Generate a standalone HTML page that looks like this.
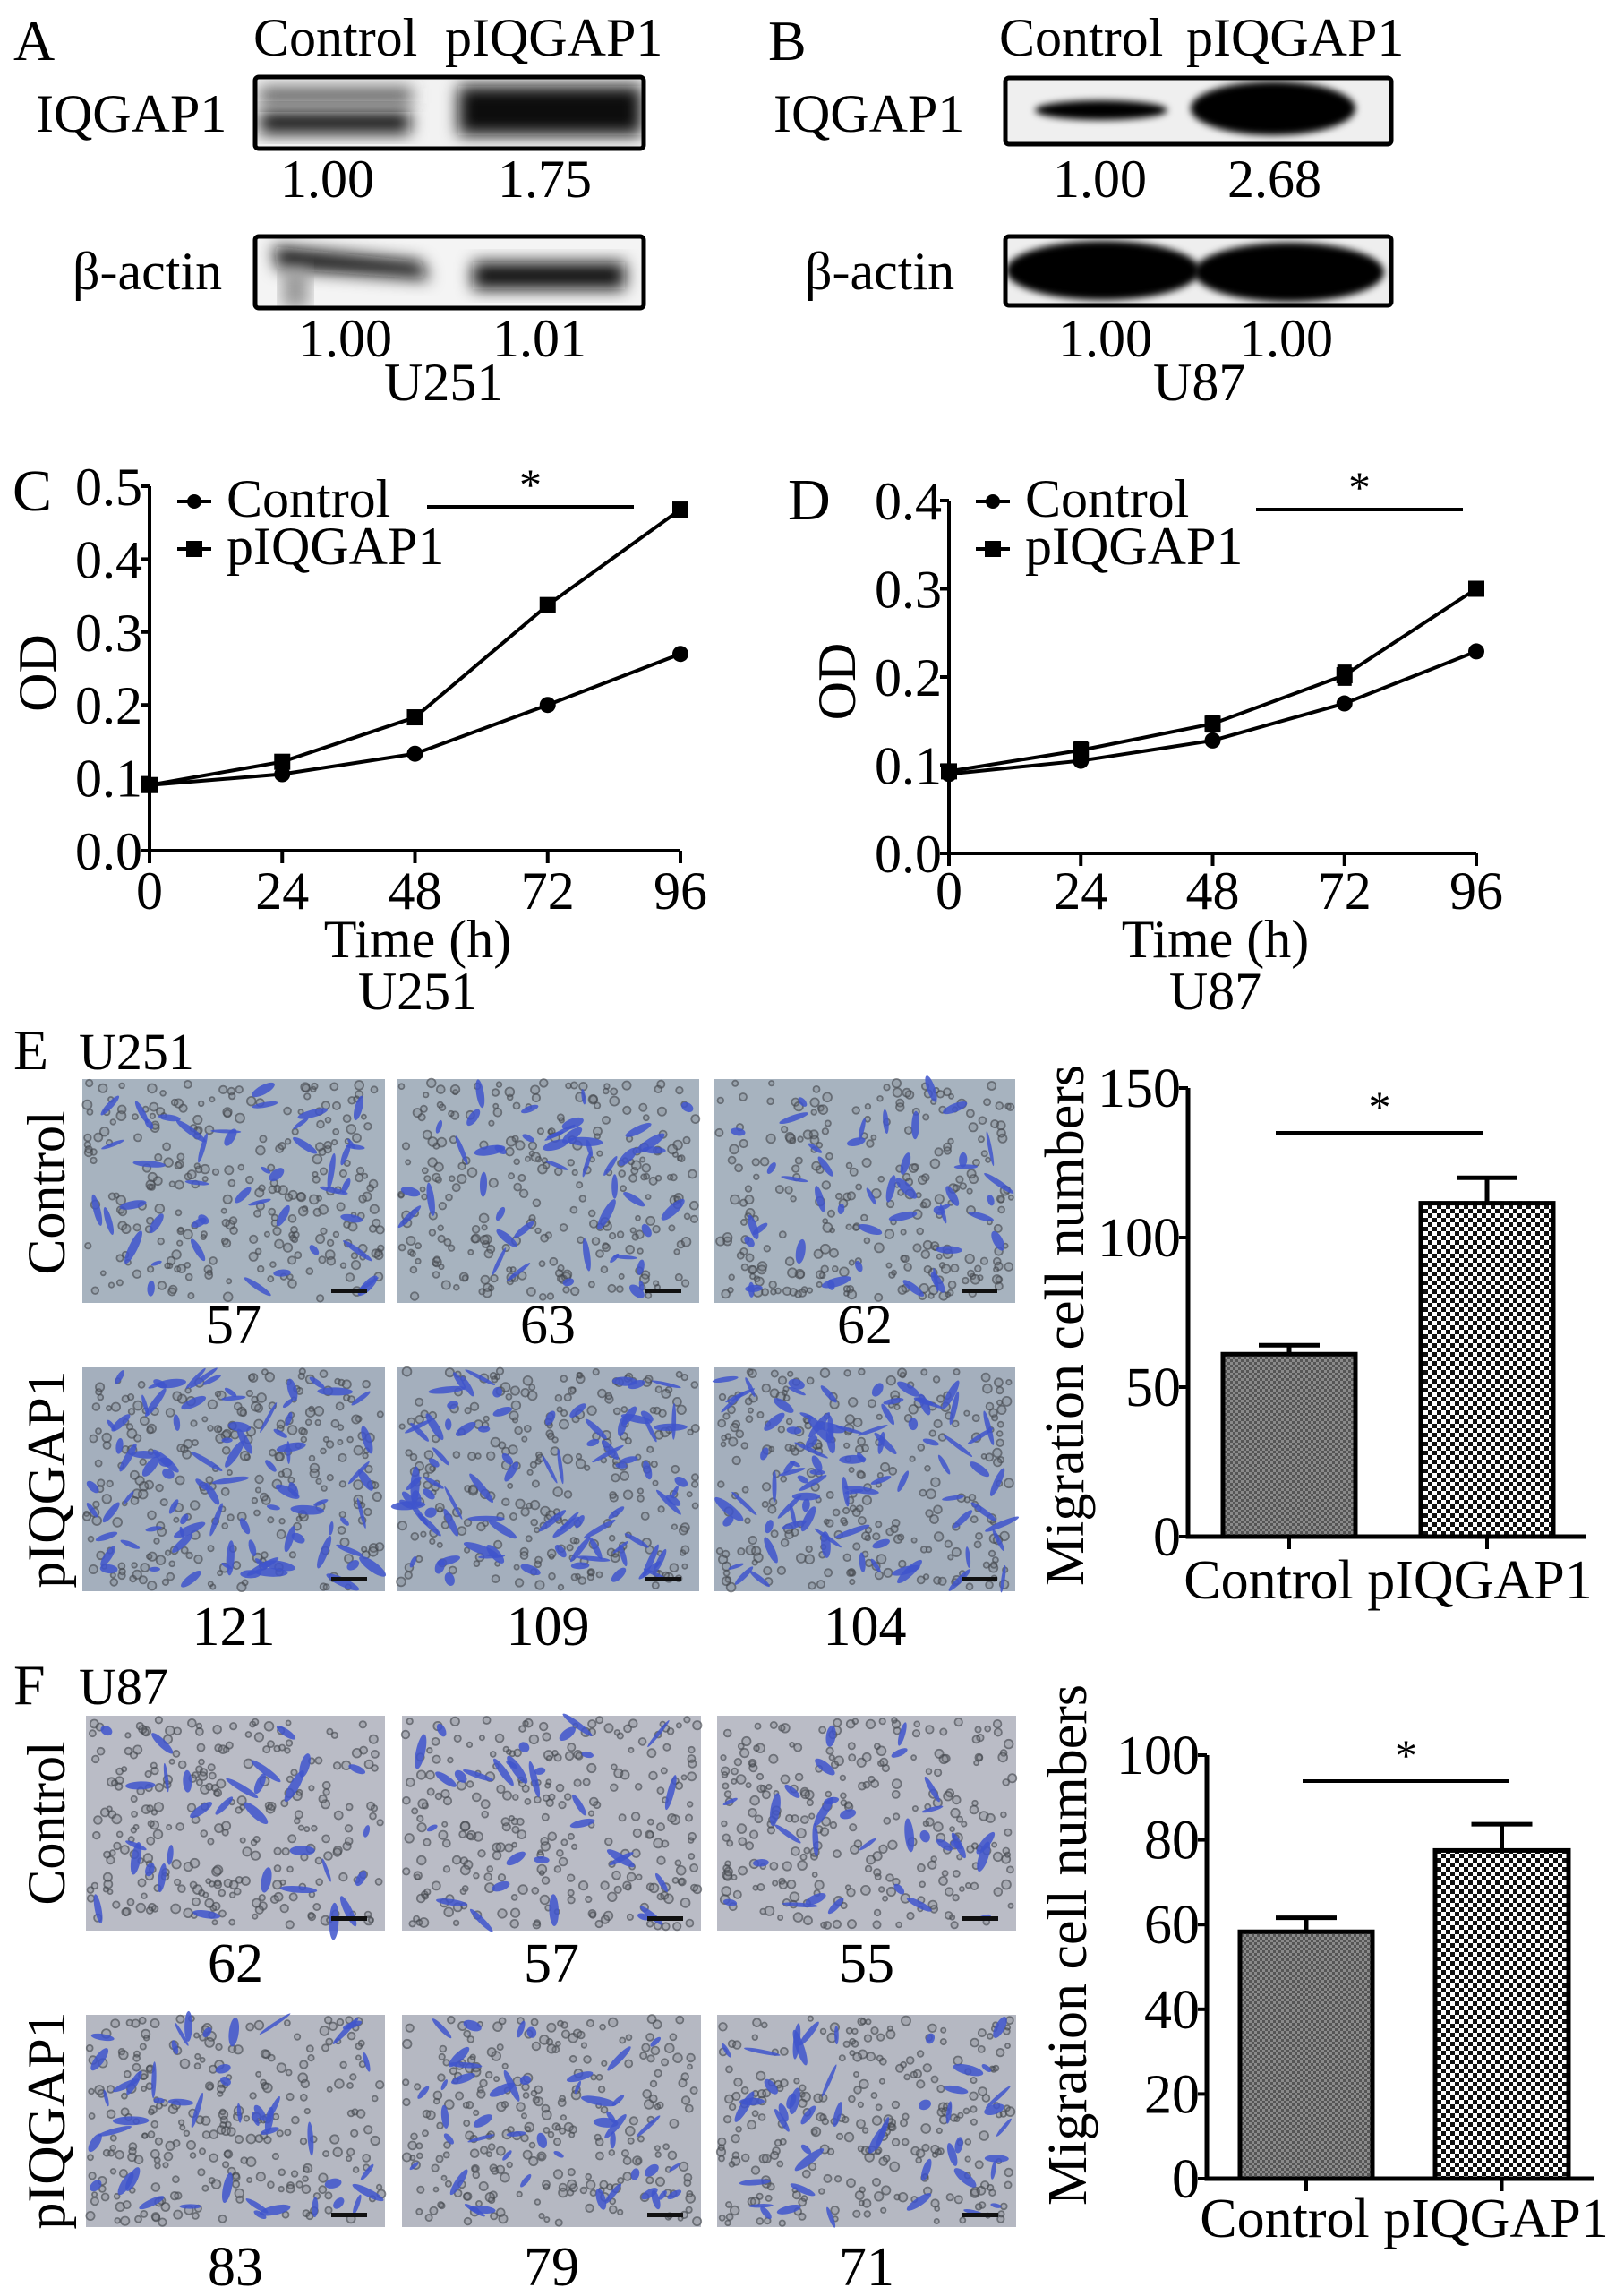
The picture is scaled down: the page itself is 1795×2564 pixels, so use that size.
<!DOCTYPE html>
<html><head><meta charset="utf-8"><style>
html,body{margin:0;padding:0;background:#fff;}
svg{display:block;font-family:"Liberation Serif",serif;}
</style></head><body>
<svg id="fig" width="1795" height="2564" viewBox="0 0 1795 2564" xmlns="http://www.w3.org/2000/svg">
<defs>
<filter id="blur6" x="-20%" y="-50%" width="140%" height="200%"><feGaussianBlur stdDeviation="9"/></filter>
<filter id="blur3" x="-20%" y="-50%" width="140%" height="200%"><feGaussianBlur stdDeviation="4"/></filter>
<pattern id="patCtrl" width="6" height="6" patternUnits="userSpaceOnUse"><rect width="6" height="6" fill="#8a8a8a"/><rect width="3" height="3" fill="#555"/><rect x="3" y="3" width="3" height="3" fill="#555"/></pattern>
<pattern id="patPIQ" width="10" height="10" patternUnits="userSpaceOnUse"><rect width="10" height="10" fill="#fff"/><rect width="5" height="5" fill="#111"/><rect x="5" y="5" width="5" height="5" fill="#111"/></pattern>
<clipPath id="clipA1"><rect x="286" y="88" width="431" height="76"/></clipPath>
<clipPath id="clipA2"><rect x="286" y="266" width="431" height="76"/></clipPath>
<clipPath id="clipB1"><rect x="1125" y="89" width="427" height="70"/></clipPath>
<clipPath id="clipB2"><rect x="1125" y="266" width="427" height="73"/></clipPath>
</defs>

<!-- Panel A -->
<g font-size="60">
<text x="15" y="67" font-size="64">A</text>
<text x="283" y="62">Control</text>
<text x="497" y="62">pIQGAP1</text>
<text x="40" y="147">IQGAP1</text>
<g clip-path="url(#clipA1)">
<rect x="283" y="85" width="437" height="82" fill="#f2f2f2"/>
<rect x="290" y="98" width="170" height="18" fill="#555" filter="url(#blur6)"/>
<rect x="290" y="125" width="168" height="24" fill="#111" filter="url(#blur6)"/>
<rect x="512" y="96" width="205" height="55" fill="#0a0a0a" filter="url(#blur6)"/>
</g>
<rect x="285" y="86" width="434" height="80" rx="4" fill="none" stroke="#000" stroke-width="5"/>
<text x="313" y="220">1.00</text>
<text x="556" y="220">1.75</text>
<text x="81" y="323">β-actin</text>
<g clip-path="url(#clipA2)">
<rect x="283" y="263" width="437" height="82" fill="#f4f4f4"/>
<polygon points="305,275 470,292 480,312 310,300" fill="#111" filter="url(#blur6)"/>
<rect x="315" y="300" width="30" height="45" fill="#999" filter="url(#blur6)"/>
<rect x="528" y="293" width="170" height="30" fill="#0a0a0a" filter="url(#blur6)"/>
</g>
<rect x="285" y="264" width="434" height="80" rx="4" fill="none" stroke="#000" stroke-width="5"/>
<text x="333" y="398">1.00</text>
<text x="550" y="398">1.01</text>
<text x="429" y="447">U251</text>
</g>

<!-- Panel B -->
<g font-size="60">
<text x="858" y="67" font-size="64">B</text>
<text x="1116" y="62">Control</text>
<text x="1325" y="62">pIQGAP1</text>
<text x="864" y="147">IQGAP1</text>
<g clip-path="url(#clipB1)">
<rect x="1122" y="86" width="433" height="76" fill="#efefef"/>
<ellipse cx="1230" cy="123" rx="74" ry="11" fill="#000" filter="url(#blur3)"/>
<ellipse cx="1422" cy="121" rx="92" ry="30" fill="#000" filter="url(#blur3)"/>
</g>
<rect x="1123" y="87" width="431" height="74" rx="4" fill="none" stroke="#000" stroke-width="5"/>
<text x="1176" y="220">1.00</text>
<text x="1371" y="220">2.68</text>
<text x="899" y="323">β-actin</text>
<g clip-path="url(#clipB2)">
<rect x="1122" y="263" width="433" height="79" fill="#eee"/>
<ellipse cx="1232" cy="302" rx="108" ry="33" fill="#000" filter="url(#blur3)"/>
<ellipse cx="1440" cy="304" rx="106" ry="33" fill="#000" filter="url(#blur3)"/>
</g>
<rect x="1123" y="264" width="431" height="77" rx="4" fill="none" stroke="#000" stroke-width="5"/>
<text x="1182" y="398">1.00</text>
<text x="1384" y="398">1.00</text>
<text x="1288" y="447">U87</text>
</g>

<g id="lineC"></g>
<g id="lineD"></g>

<!-- Panel E/F labels -->
<text x="15" y="1194" font-size="64">E</text>
<text x="88" y="1194" font-size="58">U251</text>
<text transform="translate(72,1332) rotate(-90)" text-anchor="middle" font-size="60">Control</text>
<text transform="translate(72,1652) rotate(-90)" text-anchor="middle" font-size="60">pIQGAP1</text>
<text x="15" y="1903" font-size="64">F</text>
<text x="88" y="1903" font-size="58">U87</text>
<text transform="translate(72,2036) rotate(-90)" text-anchor="middle" font-size="60">Control</text>
<text transform="translate(72,2368) rotate(-90)" text-anchor="middle" font-size="60">pIQGAP1</text>
<g id="photos"></g>

<g id="barE"></g>
<g id="barF"></g>
</svg>
<script>
const NS="http://www.w3.org/2000/svg";
// ---- Panel C data ----
const timeCats=[0,24,48,72,96];
const cControl=[0.09,0.105,0.133,0.200,0.270];
const cPIQ=[0.090,0.122,0.183,0.337,0.468];
const cTicks=["0.0","0.1","0.2","0.3","0.4","0.5"];
// ---- Panel D data ----
const dControl=[0.090,0.105,0.128,0.170,0.229];
const dPIQ=[0.093,0.117,0.147,0.202,0.300];
const dPIQErr=[0.004,0.008,0.008,0.010,0.006];
const dTicks=["0.0","0.1","0.2","0.3","0.4"];
// ---- Panel E/F bar data ----
const barCats=["Control","pIQGAP1"];
const eMeans=[61,111.5];
const eErr=[3,8.5];
const eTicks=[0,50,100,150];
const fMeans=[58.3,77.5];
const fErr=[3.3,6.2];
const fTicks=[0,20,40,60,80,100];
const photoCountsE=["57","63","62","121","109","104"];
const photoCountsF=["62","57","55","83","79","71"];

function el(tag,attrs,parent,text){const e=document.createElementNS(NS,tag);for(const k in attrs)e.setAttribute(k,attrs[k]);if(text!==undefined)e.textContent=text;parent.appendChild(e);return e;}

function lineChart(g,cfg){
  const {x0,x1,y0,y1,ymax,ticks,ctrl,piq,piqErr,sig,legX,leg1,leg2,title,titleY,xlabY,cellY,odX,cell}=cfg;
  const X=t=>x0+(t-0)/96*(x1-x0);
  const Y=v=>y0-(v/ymax)*(y0-y1);
  let a=el('path',{d:`M${x0},${y1} L${x0},${y0} L${x1},${y0}`,stroke:'#000','stroke-width':4,fill:'none'},g);
  
  
  ticks.forEach((t,i)=>{const v=parseFloat(t);
    let tk=el('line',{x1:x0-10,x2:x0,y1:Y(v),y2:Y(v),stroke:'#000','stroke-width':4},g);
    
    
    let tl=el('text',{x:x0-8,y:Y(v)+21,'text-anchor':'end','font-size':60},g,t);
    
    });
  timeCats.forEach(t=>{
    let tk=el('line',{x1:X(t),x2:X(t),y1:y0,y2:y0+14,stroke:'#000','stroke-width':4},g);
    
    
    let tl=el('text',{x:X(t),y:xlabY,'text-anchor':'middle','font-size':60},g,String(t));
    
    });
  let xt=el('text',{x:(x0+x1)/2+3,y:xlabY+54,'text-anchor':'middle','font-size':60},g,'Time (h)');
  
  
  let ct=el('text',{x:(x0+x1)/2+3,y:xlabY+112,'text-anchor':'middle','font-size':60},g,cell);
  
  
  let yt=el('text',{transform:`translate(${odX},${(y0+y1)/2+5}) rotate(-90)`,'text-anchor':'middle','font-size':60},g,'OD');
  
  
  let pl=el('polyline',{points:ctrl.map((v,i)=>X(timeCats[i])+','+Y(v)).join(' '),fill:'none',stroke:'#000','stroke-width':4},g);
  
  
  let pl2=el('polyline',{points:piq.map((v,i)=>X(timeCats[i])+','+Y(v)).join(' '),fill:'none',stroke:'#000','stroke-width':4},g);
  
  
  ctrl.forEach((v,i)=>{let c=el('circle',{cx:X(timeCats[i]),cy:Y(v),r:9,fill:'#000'},g);
    
    });
  piq.forEach((v,i)=>{
    if(piqErr){const e=piqErr[i];let eb=el('path',{d:`M${X(timeCats[i])-8},${Y(v+e)} h16 M${X(timeCats[i])},${Y(v+e)} V${Y(v-e)} M${X(timeCats[i])-8},${Y(v-e)} h16`,stroke:'#000','stroke-width':4},g);
      
      }
    let r=el('rect',{x:X(timeCats[i])-9,y:Y(v)-9,width:18,height:18,fill:'#000'},g);
    
    });
  let lg=el('g',{},g);
  
  
  el('line',{x1:legX,x2:legX+38,y1:leg1-17,y2:leg1-17,stroke:'#000','stroke-width':4},lg);
  el('circle',{cx:legX+19,cy:leg1-17,r:8,fill:'#000'},lg);
  let lt1=el('text',{x:legX+55,y:leg1,'font-size':60},lg,'Control');
  
  
  el('line',{x1:legX,x2:legX+38,y1:leg2-17,y2:leg2-17,stroke:'#000','stroke-width':4},lg);
  el('rect',{x:legX+10,y:leg2-26,width:18,height:18,fill:'#000'},lg);
  let lt2=el('text',{x:legX+55,y:leg2,'font-size':60},lg,'pIQGAP1');
  
  
  let sl=el('line',{x1:sig[0],x2:sig[1],y1:sig[2],y2:sig[2],stroke:'#000','stroke-width':4},g);
  
  
  let st=el('text',{x:(sig[0]+sig[1])/2,y:sig[2]-8,'text-anchor':'middle','font-size':50},g,'*');
  
  
  let pt=el('text',{x:title[0],y:titleY,'font-size':66},g,title[1]);
  
  
}
lineChart(document.getElementById('lineC'),{x0:167,x1:760,y0:950,y1:543,ymax:0.5,ticks:cTicks,ctrl:cControl,piq:cPIQ,sig:[477,708,566],legX:198,leg1:577,leg2:630,title:[14,'C'],titleY:570,xlabY:1015,odX:62,cell:'U251'});
lineChart(document.getElementById('lineD'),{x0:1060,x1:1649,y0:953,y1:559,ymax:0.4,ticks:dTicks,ctrl:dControl,piq:dPIQ,piqErr:dPIQErr,sig:[1403,1634,569],legX:1090,leg1:577,leg2:630,title:[880,'D'],titleY:580,xlabY:1015,odX:955,cell:'U87'});

function barChart(g,cfg){
  const {x0,xend,y0,ytop,ymax,ticks,means,errs,bars,sig,labX,labY,xlabY}=cfg;
  const Y=v=>y0-(v/ymax)*(y0-ytop);
  let a=el('path',{d:`M${x0},${ytop} L${x0},${y0} L${xend},${y0}`,stroke:'#000','stroke-width':5,fill:'none'},g);
  
  
  ticks.forEach(t=>{
    let tk=el('line',{x1:x0-10,x2:x0,y1:Y(t),y2:Y(t),stroke:'#000','stroke-width':4},g);
    
    
    let tl=el('text',{x:x0-8,y:Y(t)+21,'text-anchor':'end','font-size':62},g,String(t));
    
    });
  means.forEach((m,i)=>{const [bx,bw]=bars[i];const cx=bx+bw/2;
    let eb=el('path',{d:`M${cx},${Y(m)} V${Y(m+errs[i])} M${cx-34},${Y(m+errs[i])} h68`,stroke:'#000','stroke-width':5},g);
    
    
    let r=el('rect',{x:bx,y:Y(m),width:bw,height:y0-Y(m),fill:i==0?'url(#patCtrl)':'url(#patPIQ)',stroke:'#000','stroke-width':5},g);
    
    
    let tk=el('line',{x1:cx,x2:cx,y1:y0,y2:y0+14,stroke:'#000','stroke-width':4},g);
    
    
  });
  let xl=el('text',{x:(bars[0][0]+bars[1][0]+bars[1][1])/2,y:xlabY,'text-anchor':'middle','font-size':62},g,barCats.join(' '));
  
  
  let yt=el('text',{transform:`translate(${labX},${labY}) rotate(-90)`,'text-anchor':'middle','font-size':62},g,'Migration cell numbers');
  
  
  let sl=el('line',{x1:sig[0],x2:sig[1],y1:sig[2],y2:sig[2],stroke:'#000','stroke-width':4},g);
  
  
  let st=el('text',{x:(sig[0]+sig[1])/2,y:sig[2]-12,'text-anchor':'middle','font-size':50},g,'*');
  
  
}
barChart(document.getElementById('barE'),{x0:1327,xend:1771,y0:1716,ytop:1215,ymax:150,ticks:eTicks,means:eMeans,errs:eErr,bars:[[1366,148],[1587,148]],sig:[1425,1657,1265],labX:1210,labY:1480,xlabY:1785});
barChart(document.getElementById('barF'),{x0:1348,xend:1781,y0:2433,ytop:1960,ymax:100,ticks:fTicks,means:fMeans,errs:fErr,bars:[[1385,148],[1603,149]],sig:[1455,1686,1989],labX:1213,labY:2172,xlabY:2498});

// photos (decorative texture, deterministic)
let seed=12345;function rnd(){seed=(seed*1103515245+12345)%2147483648;return seed/2147483648;}
const pg=document.getElementById('photos');
function photo(x,y,w,h,bg,blueN,label,ly,idx,set){
  const g=el('g',{},pg);
  
  
  el('rect',{x:x,y:y,width:w,height:h,fill:bg},g);
  let s='';
  for(let i=0;i<260;i++){s+=`<circle cx="${(x+4+rnd()*(w-8)).toFixed(1)}" cy="${(y+4+rnd()*(h-8)).toFixed(1)}" r="${(2.5+rnd()*2.5).toFixed(1)}" fill="#6a6e74" fill-opacity="0.35" stroke="#45494f" stroke-width="1.8" opacity="0.65"/>`;}
  for(let i=0;i<blueN;i++){const cx=x+10+rnd()*(w-20),cy=y+10+rnd()*(h-20),rx=6+rnd()*15,ry=2+rnd()*3.5,a=rnd()*180;
    s+=`<ellipse cx="${cx.toFixed(1)}" cy="${cy.toFixed(1)}" rx="${rx.toFixed(1)}" ry="${ry.toFixed(1)}" transform="rotate(${a.toFixed(0)} ${cx.toFixed(1)} ${cy.toFixed(1)})" fill="#3f55cc" opacity="0.85"/>`;}
  g.insertAdjacentHTML('beforeend',s);
  el('rect',{x:x+w-60,y:y+h-16,width:40,height:5,fill:'#111'},g);
  const t=el('text',{x:x+w/2,y:ly,'text-anchor':'middle','font-size':62},pg,label);
  
  
}
const eCols=[[92,338],[443,338],[798,336]];
eCols.forEach((c,i)=>photo(c[0],1205,c[1],250,'#a7b3bf',45,photoCountsE[i],1500,i,'e'));
eCols.forEach((c,i)=>photo(c[0],1527,c[1],250,'#a4afbd',85,photoCountsE[i+3],1837,i+3,'e'));
const fCols=[[96,334],[449,334],[801,334]];
fCols.forEach((c,i)=>photo(c[0],1916,c[1],240,'#babcc6',30,photoCountsF[i],2213,i,'f'));
fCols.forEach((c,i)=>photo(c[0],2250,c[1],237,'#b5b8c2',45,photoCountsF[i+3],2552,i+3,'f'));
</script>
</body></html>
